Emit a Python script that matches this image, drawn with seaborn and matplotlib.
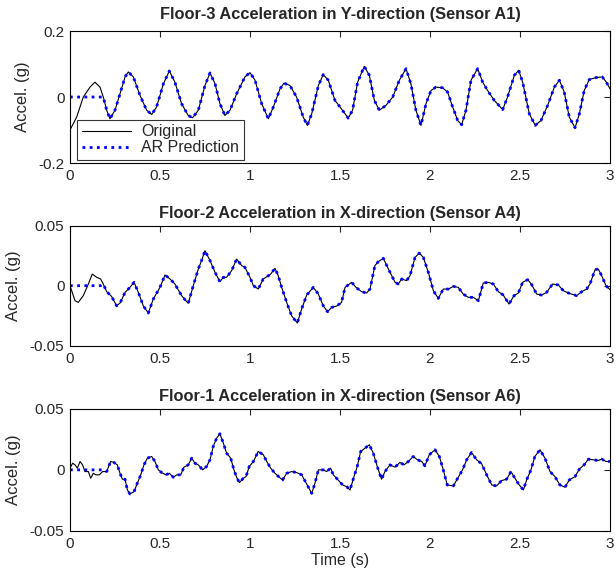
import numpy as np
import pandas as pd
import matplotlib
matplotlib.use("Agg")
import matplotlib.pyplot as plt
import seaborn as sns

# values (time in s, accel in g)
t_f3 = [0.0, 0.037, 0.074, 0.111, 0.139, 0.167, 0.185, 0.204, 0.222, 0.250,
        0.278, 0.306, 0.324, 0.352, 0.389, 0.426, 0.454, 0.481, 0.519, 0.552,
        0.583, 0.620, 0.657, 0.681, 0.713, 0.750, 0.778, 0.806, 0.833, 0.861,
        0.889, 0.926, 0.972, 1.000, 1.028, 1.065, 1.102, 1.130, 1.167, 1.189,
        1.222, 1.259, 1.296, 1.319, 1.343, 1.380, 1.407, 1.435, 1.472, 1.500,
        1.546, 1.570, 1.598, 1.635, 1.663, 1.691, 1.719, 1.756, 1.793, 1.830,
        1.867, 1.894, 1.922, 1.950, 1.978, 2.006, 2.033, 2.070, 2.098, 2.126,
        2.154, 2.176, 2.200, 2.228, 2.265, 2.293, 2.320, 2.357, 2.404, 2.431,
        2.469, 2.493, 2.515, 2.552, 2.585, 2.617, 2.654, 2.691, 2.719, 2.746,
        2.774, 2.806, 2.830, 2.857, 2.885, 2.922, 2.957, 2.980, 3.0]
a_f3 = [-0.100, -0.061, 0.000, 0.030, 0.045, 0.030, 0.000, -0.040, -0.066, -0.040,
        0.010, 0.061, 0.076, 0.061, 0.005, -0.040, -0.053, -0.030, 0.040, 0.079,
        0.045, -0.020, -0.056, -0.063, -0.040, 0.035, 0.073, 0.040, -0.020, -0.056,
        -0.040, 0.010, 0.061, 0.074, 0.051, -0.020, -0.066, -0.030, 0.025, 0.042,
        0.035, 0.000, -0.061, -0.086, -0.051, 0.035, 0.068, 0.051, -0.010, -0.030,
        -0.064, -0.040, 0.045, 0.093, 0.066, -0.010, -0.040, -0.025, 0.000, 0.051,
        0.086, 0.040, -0.040, -0.086, -0.020, 0.020, 0.030, 0.028, 0.015, -0.030,
        -0.071, -0.084, -0.040, 0.051, 0.086, 0.045, 0.020, -0.010, -0.038, 0.000,
        0.066, 0.081, 0.045, -0.051, -0.086, -0.071, -0.025, 0.030, 0.051, 0.015,
        -0.061, -0.093, -0.051, 0.020, 0.053, 0.059, 0.061, 0.045, 0.025]

t_f2 = [0.0, 0.028, 0.046, 0.074, 0.102, 0.124, 0.148, 0.170, 0.185, 0.204,
        0.231, 0.259, 0.278, 0.306, 0.333, 0.356, 0.380, 0.407, 0.435, 0.463,
        0.500, 0.528, 0.556, 0.583, 0.620, 0.657, 0.685, 0.713, 0.731, 0.750,
        0.778, 0.806, 0.833, 0.852, 0.870, 0.898, 0.926, 0.954, 0.972, 1.000,
        1.019, 1.046, 1.074, 1.102, 1.115, 1.139, 1.157, 1.176, 1.204, 1.231,
        1.263, 1.287, 1.315, 1.352, 1.380, 1.407, 1.431, 1.454, 1.481, 1.509,
        1.528, 1.565, 1.589, 1.620, 1.648, 1.667, 1.694, 1.713, 1.741, 1.769,
        1.806, 1.824, 1.843, 1.870, 1.889, 1.917, 1.941, 1.963, 1.991, 2.019,
        2.046, 2.074, 2.102, 2.130, 2.157, 2.185, 2.213, 2.241, 2.269, 2.296,
        2.324, 2.352, 2.380, 2.407, 2.439, 2.467, 2.491, 2.515, 2.543, 2.563,
        2.593, 2.620, 2.648, 2.681, 2.713, 2.741, 2.769, 2.787, 2.815, 2.843,
        2.870, 2.889, 2.917, 2.935, 2.954, 2.978, 3.0]
a_f2 = [0.0, -0.0125, -0.0139, -0.0083, 0.0014, 0.0097, 0.0070, 0.0056, 0.0014, -0.0050,
        -0.0089, -0.0167, -0.0145, -0.0056, -0.0014, 0.0028, -0.0056, -0.0167, -0.0228, -0.0111,
        -0.0014, 0.0089, 0.0056, 0.0014, -0.0083, -0.0147, 0.0, 0.0139, 0.0209, 0.0292,
        0.0209, 0.0111, 0.0033, 0.0070, 0.0070, 0.0125, 0.0222, 0.0167, 0.0153, 0.0070,
        0.0, -0.0028, 0.0056, 0.0083, 0.0097, 0.0145, 0.0083, -0.0014, -0.0139, -0.0250,
        -0.0311, -0.0195, -0.0078, -0.0014, -0.0070, -0.0167, -0.0217, -0.0181, -0.0170, -0.0139,
        -0.0014, 0.0028, -0.0014, -0.0050, -0.0061, -0.0028, 0.0167, 0.0200, 0.0228, 0.0139,
        0.0028, 0.0014, 0.0056, 0.0042, 0.0083, 0.0236, 0.0272, 0.0236, 0.0111, -0.0042,
        -0.0106, -0.0028, -0.0028, -0.0006, -0.0014, -0.0070, -0.0097, -0.0097, -0.0125, 0.0022,
        0.0028, 0.0014, -0.0050, -0.0078, -0.0153, -0.0083, -0.0061, 0.0028, 0.0050, 0.0014,
        -0.0070, -0.0078, -0.0056, 0.0014, 0.0006, -0.0042, -0.0061, -0.0070, -0.0083, -0.0050,
        -0.0028, 0.0014, 0.0133, 0.0139, 0.0083, 0.0, -0.0033]

t_f1 = [0.0, 0.015, 0.028, 0.041, 0.056, 0.070, 0.083, 0.102, 0.115, 0.130,
        0.144, 0.163, 0.181, 0.204, 0.226, 0.244, 0.263, 0.278, 0.291, 0.306,
        0.319, 0.333, 0.356, 0.374, 0.393, 0.411, 0.430, 0.454, 0.472, 0.491,
        0.509, 0.533, 0.552, 0.574, 0.593, 0.615, 0.633, 0.657, 0.676, 0.694,
        0.713, 0.737, 0.759, 0.778, 0.796, 0.815, 0.833, 0.852, 0.870, 0.893,
        0.911, 0.926, 0.941, 0.963, 0.978, 0.996, 1.019, 1.046, 1.074, 1.093,
        1.115, 1.139, 1.163, 1.181, 1.204, 1.231, 1.259, 1.287, 1.311, 1.343,
        1.361, 1.380, 1.407, 1.426, 1.448, 1.463, 1.481, 1.515, 1.537, 1.556,
        1.578, 1.596, 1.615, 1.639, 1.663, 1.685, 1.707, 1.731, 1.750, 1.778,
        1.806, 1.833, 1.856, 1.880, 1.907, 1.930, 1.954, 1.972, 1.996, 2.028,
        2.052, 2.074, 2.096, 2.130, 2.157, 2.181, 2.204, 2.231, 2.259, 2.287,
        2.315, 2.343, 2.370, 2.398, 2.426, 2.450, 2.472, 2.496, 2.519, 2.537,
        2.561, 2.583, 2.611, 2.639, 2.667, 2.694, 2.722, 2.750, 2.774, 2.806,
        2.830, 2.856, 2.880, 2.907, 2.935, 2.954, 2.978, 3.0]
a_f1 = [0.0014, 0.0055, 0.0041, 0.0014, 0.0069, 0.0041, -0.0014, -0.0014, -0.0069, -0.0028,
        -0.0041, -0.0041, -0.0014, -0.0014, 0.0069, 0.0061, 0.0041, -0.0028, -0.0077, -0.0077,
        -0.0165, -0.0198, -0.0179, -0.0110, -0.0041, 0.0041, 0.0096, 0.0110, 0.0069, 0.0,
        -0.0022, -0.0041, -0.0028, -0.0061, -0.0041, -0.0041, 0.0022, 0.0041, 0.0096, 0.0055,
        0.0041, 0.0, 0.0028, 0.0083, 0.0193, 0.0261, 0.0297, 0.0220, 0.0138, 0.0096,
        0.0, -0.0061, -0.0105, -0.0069, -0.0055, 0.0028, 0.0069, 0.0151, 0.0124, 0.0069,
        0.0014, -0.0028, -0.0061, -0.0083, -0.0028, -0.0014, -0.0022, -0.0041, -0.0105, -0.0193,
        -0.0110, 0.0, 0.0, -0.0014, 0.0014, -0.0041, -0.0069, -0.0124, -0.0138, -0.0165,
        -0.0055, 0.0028, 0.0151, 0.0179, 0.0206, 0.0138, 0.0028, -0.0077, -0.0014, 0.0041,
        0.0022, 0.0061, 0.0041, 0.0069, 0.0110, 0.0083, 0.0069, 0.0033, 0.0124, 0.0165,
        0.0110, 0.0, -0.0124, -0.0132, -0.0061, 0.0, 0.0083, 0.0143, 0.0083, 0.0050,
        -0.0041, -0.0124, -0.0132, -0.0088, -0.0077, -0.0014, -0.0069, -0.0124, -0.0165, -0.0083,
        0.0, 0.0110, 0.0165, 0.0096, -0.0014, -0.0055, -0.0124, -0.0143, -0.0083, -0.0055,
        0.0006, 0.0041, 0.0088, 0.0083, 0.0077, 0.0088, 0.0069, 0.0069]

# AR prediction is zero until the model has enough past samples
onsets = [0.18, 0.185, 0.2]
titles = ["Floor-3 Acceleration in Y-direction (Sensor A1)",
          "Floor-2 Acceleration in X-direction (Sensor A4)",
          "Floor-1 Acceleration in X-direction (Sensor A6)"]
ylims = [0.2, 0.05, 0.05]
yticks = [[-0.2, 0, 0.2], [-0.05, 0, 0.05], [-0.05, 0, 0.05]]
yticklabels = [["-0.2", "0", "0.2"], ["-0.05", "0", "0.05"], ["-0.05", "0", "0.05"]]
xticks = [0, 0.5, 1, 1.5, 2, 2.5, 3]
xticklabels = ["0", "0.5", "1", "1.5", "2", "2.5", "3"]

sns.set_style("white")
plt.rcParams["font.family"] = ["Liberation Sans", "DejaVu Sans"]
plt.rcParams["xtick.direction"] = "in"
plt.rcParams["ytick.direction"] = "in"

fig = plt.figure(figsize=(6.16, 5.75), dpi=100)
rects = [[0.1136, 0.7165, 0.8766, 0.2295],
         [0.1136, 0.3988, 0.8766, 0.2087],
         [0.1136, 0.0770, 0.8766, 0.2117]]
title_pads = [9, 5.5, 5.5]

series = [(t_f3, a_f3), (t_f2, a_f2), (t_f1, a_f1)]

for i, (t, a) in enumerate(series):
    ax = fig.add_axes(rects[i])
    df = pd.DataFrame({"t": t, "orig": a})
    df["pred"] = np.where(df["t"] < onsets[i], 0.0, df["orig"])

    sns.lineplot(data=df, x="t", y="orig", color="black", linewidth=0.8,
                 sort=False, estimator=None, ax=ax, label="Original")
    sns.lineplot(data=df, x="t", y="pred", color="#0000ff", linewidth=2.0,
                 linestyle=(0, (1, 1.6)), sort=False, estimator=None, ax=ax,
                 label="AR Prediction")

    ax.set_xlim(0, 3)
    ax.set_ylim(-ylims[i], ylims[i])
    ax.set_xticks(xticks)
    ax.set_xticklabels(xticklabels)
    ax.set_yticks(yticks[i])
    ax.set_yticklabels(yticklabels[i])
    ax.tick_params(axis="both", labelsize=11, length=4, width=0.8,
                   top=True, right=True)
    ax.tick_params(axis="x", pad=4.5)
    ax.tick_params(axis="y", pad=4)
    for s in ax.spines.values():
        s.set_linewidth(0.8)
        s.set_color("black")
    ax.set_title(titles[i], fontsize=11.8, fontweight="bold", pad=title_pads[i])
    ax.set_ylabel("Accel. (g)", fontsize=12, labelpad=6)
    ax.set_xlabel("Time (s)" if i == 2 else "", fontsize=11.5, labelpad=1.5)

    if i == 0:
        leg = ax.legend(loc="lower left", bbox_to_anchor=(0.013, 0.023),
                        fontsize=11.5, frameon=True, fancybox=False,
                        borderaxespad=0, handlelength=3.1, borderpad=0.3,
                        labelspacing=0.05, handletextpad=0.6)
        leg.get_frame().set_edgecolor("black")
        leg.get_frame().set_linewidth(0.8)
    else:
        ax.get_legend().remove()

fig.savefig("out.png", dpi=100)
